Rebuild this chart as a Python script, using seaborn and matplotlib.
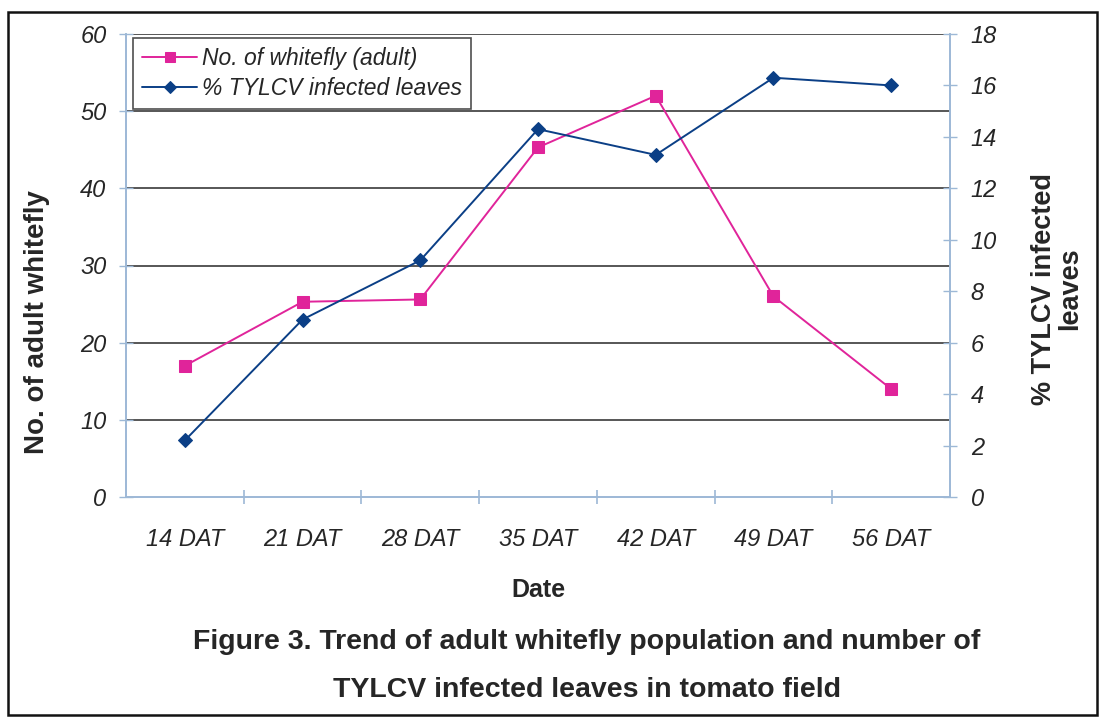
import matplotlib
matplotlib.use("Agg")
import matplotlib.pyplot as plt
from matplotlib.patches import Rectangle
from matplotlib.ticker import FixedLocator, MultipleLocator
import pandas as pd
import seaborn as sns

# Sampling dates (days after transplanting)
dates = ["14 DAT", "21 DAT", "28 DAT", "35 DAT", "42 DAT", "49 DAT", "56 DAT"]
# Mean number of adult whiteflies per sampling date
whitefly_adults = [17.0, 25.3, 25.6, 45.3, 52.0, 26.0, 14.0]
# Percentage of leaves showing TYLCV symptoms
tylcv_infected_pct = [2.2, 6.9, 9.2, 14.3, 13.3, 16.3, 16.0]

label_whitefly = "No. of whitefly (adult)"
label_tylcv = "% TYLCV infected leaves"

df = pd.DataFrame({"date": dates,
                   "whitefly": whitefly_adults,
                   "tylcv": tylcv_infected_pct})

sns.set_theme(style="white")
plt.rcParams["font.family"] = ["Liberation Sans", "DejaVu Sans"]

pink = "#e0249a"
navy = "#0b3f86"
axis_col = "#9db8d6"

fig = plt.figure(figsize=(11, 7.18), dpi=100)
ax = fig.add_axes([126 / 1100, 1 - 497 / 718, (950 - 126) / 1100, (497 - 34) / 718])
ax2 = ax.twinx()

sns.lineplot(data=df, x="date", y="whitefly", ax=ax, color=pink, marker="s",
             markersize=8.5, markeredgecolor=pink, linewidth=1.4, sort=False,
             label=label_whitefly, legend=False)
sns.lineplot(data=df, x="date", y="tylcv", ax=ax2, color=navy, marker="D",
             markersize=7.5, markeredgecolor=navy, linewidth=1.4, sort=False,
             label=label_tylcv, legend=False)

ax.set_xlim(-0.5, len(dates) - 0.5)
ax.set_ylim(0, 60)
ax2.set_ylim(0, 18)
ax.yaxis.set_major_locator(MultipleLocator(10))
ax2.yaxis.set_major_locator(MultipleLocator(2))

# Horizontal gridlines from the primary axis
for v in range(10, 61, 10):
    ax.axhline(v, color="#3a3a3a", linewidth=1.2, zorder=0)
ax.grid(False)
ax2.grid(False)

# Category labels without marks; tick marks between categories
ax.set_xticks(range(len(dates)))
ax.set_xticklabels(dates, fontsize=17, style="italic")
ax.tick_params(axis="x", which="major", length=0, pad=22)
ax.xaxis.set_minor_locator(FixedLocator([i + 0.5 for i in range(len(dates) - 1)]))
ax.tick_params(axis="x", which="minor", length=10, direction="inout",
               color=axis_col, width=1.2, bottom=True)

ax.tick_params(axis="y", labelsize=17, direction="inout", length=10,
               color=axis_col, width=1.0, pad=9, left=True)
ax2.tick_params(axis="y", labelsize=17, direction="inout", length=10,
                color=axis_col, width=1.0, pad=10, right=True)
for lbl in ax.get_yticklabels() + ax2.get_yticklabels():
    lbl.set_fontstyle("italic")

for a in (ax, ax2):
    a.spines["top"].set_visible(False)
    for side in ("left", "right", "bottom"):
        a.spines[side].set_color(axis_col)
        a.spines[side].set_linewidth(1.2)
    a.set_xlabel("")
    a.set_ylabel("")

ax.set_ylabel("No. of adult whitefly", fontsize=20, fontweight="bold")
ax.yaxis.set_label_coords(-0.092, 0.378)
ax2.set_ylabel("% TYLCV infected\nleaves", fontsize=19.5, fontweight="bold",
               rotation=90, linespacing=1.0, ha="center", va="center")
ax2.yaxis.set_label_coords(1.13, 0.45)
ax.set_xlabel("Date", fontsize=18, fontweight="bold", labelpad=20)

handles = ax.get_lines()[:1] + ax2.get_lines()[:1]
leg = ax2.legend(handles, [label_whitefly, label_tylcv],
                 loc="upper left", bbox_to_anchor=(133 / 1100, 1 - 38 / 718),
                 bbox_transform=fig.transFigure, frameon=True, fancybox=False,
                 prop={"size": 16.5, "style": "italic"}, handlelength=2.4,
                 handletextpad=0.2, borderpad=0.4, labelspacing=0.3,
                 borderaxespad=0, markerscale=0.85)
leg.get_frame().set_edgecolor("#222222")
leg.get_frame().set_linewidth(1.2)

caption_font = ["Liberation Sans Narrow", "Liberation Sans", "DejaVu Sans"]
fig.text(587 / 1100, 1 - 642 / 718,
         "Figure 3. Trend of adult whitefly population and number of",
         ha="center", va="center", fontsize=20.5, fontweight="bold",
         family=caption_font)
fig.text(587 / 1100, 1 - 690 / 718, "TYLCV infected leaves in tomato field",
         ha="center", va="center", fontsize=20.5, fontweight="bold",
         family=caption_font)

# Outer frame around the whole figure
fig.patches.append(Rectangle((8 / 1100, 1 - 715 / 718), (1097 - 8) / 1100,
                             (715 - 12) / 718, transform=fig.transFigure,
                             fill=False, edgecolor="#111111", linewidth=1.8))

fig.savefig("out.png", dpi=100, facecolor="white")
